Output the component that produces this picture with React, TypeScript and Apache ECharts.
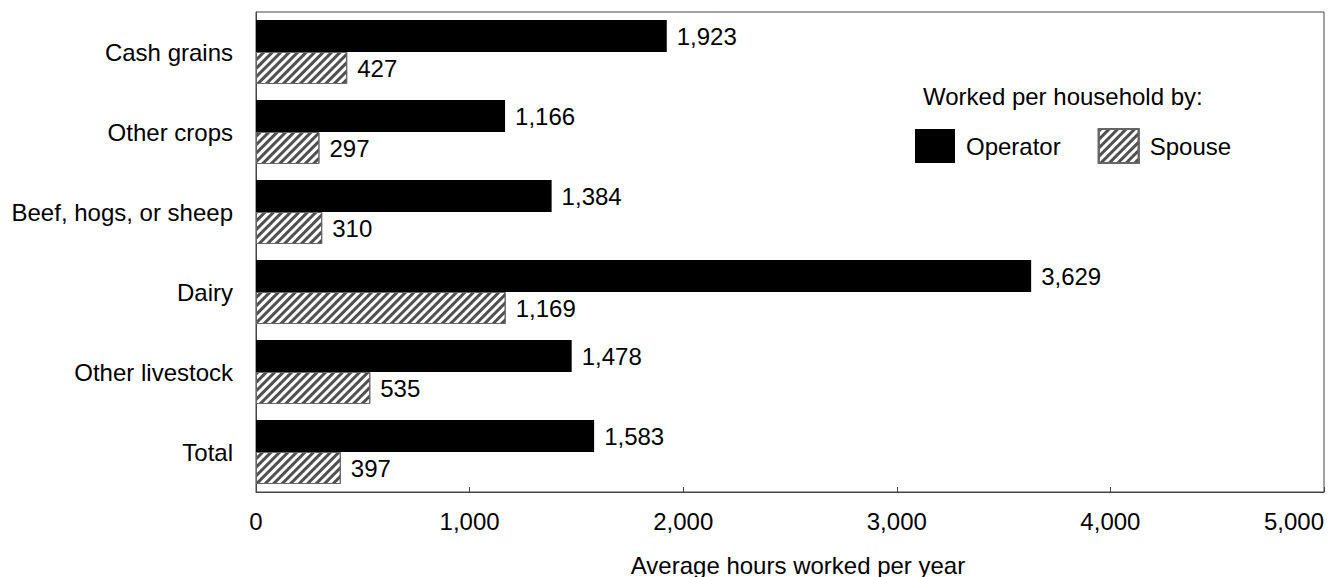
import React, { useEffect, useRef } from "react";
import * as echarts from "echarts";

const categories = ["Cash grains", "Other crops", "Beef, hogs, or sheep", "Dairy", "Other livestock", "Total"];
const operatorHours = [1923, 1166, 1384, 3629, 1478, 1583];
const spouseHours = [427, 297, 310, 1169, 535, 397];
const xTicks = [0, 1000, 2000, 3000, 4000, 5000];

const FONT = "'Liberation Sans', Arial, sans-serif";
const fmt = (v: number) => v.toLocaleString("en-US");

export default function App() {
  const ref = useRef<HTMLDivElement>(null);
  useEffect(() => {
    if (!ref.current) return;
    const chart = echarts.init(ref.current, undefined, { renderer: "svg" });
    const hatch = {
      symbol: "rect",
      symbolSize: 1,
      dashArrayX: [1, 0],
      dashArrayY: [2.5, 3],
      rotation: -Math.PI / 4,
      color: "#505050",
    };
    chart.setOption({
      animation: false,
      backgroundColor: "#fff",
      textStyle: { fontFamily: FONT },
      grid: {
        left: 256,
        right: 8,
        top: 12,
        bottom: 85,
        show: true,
        borderColor: "#444",
        borderWidth: 1,
      },
      xAxis: {
        type: "value",
        min: xTicks[0],
        max: xTicks[xTicks.length - 1],
        interval: 1000,
        splitLine: { show: false },
        axisLine: { show: true, lineStyle: { color: "#444", width: 1 } },
        axisTick: { show: true, inside: true, length: 5, lineStyle: { color: "#444" } },
        axisLabel: {
          fontSize: 24,
          color: "#000",
          fontFamily: FONT,
          margin: 17,
          formatter: (v: number) => fmt(v),
          alignMaxLabel: "right",
        },
      },
      yAxis: {
        type: "category",
        data: categories,
        inverse: true,
        axisLine: { show: true, lineStyle: { color: "#444", width: 1 } },
        axisTick: { show: false },
        axisLabel: { fontSize: 24, color: "#000", fontFamily: FONT, margin: 23 },
      },
      legend: {
        left: 910,
        top: 123,
        itemWidth: 40,
        itemHeight: 34,
        itemGap: 37,
        icon: "rect",
        textStyle: { fontSize: 24, color: "#000", fontFamily: FONT, padding: [0, 0, 0, 6] },
        data: ["Operator", "Spouse"],
      },
      graphic: [
        {
          type: "text",
          left: 923,
          top: 84,
          style: { text: "Worked per household by:", fontSize: 24, fill: "#000", fontFamily: FONT },
        },
        {
          type: "text",
          x: 798,
          y: 553,
          style: {
            text: "Average hours worked per year",
            fontSize: 24,
            fill: "#000",
            fontFamily: FONT,
            textAlign: "center",
            textVerticalAlign: "top",
          },
        },
      ],
      series: [
        {
          name: "Operator",
          type: "bar",
          data: operatorHours,
          barWidth: 32,
          barGap: "0%",
          itemStyle: { color: "#000" },
          label: {
            show: true,
            position: "right",
            distance: 10,
            fontSize: 24,
            color: "#000",
            fontFamily: FONT,
            formatter: (p: any) => fmt(p.value),
          },
        },
        {
          name: "Spouse",
          type: "bar",
          data: spouseHours,
          barWidth: 32,
          barGap: "0%",
          itemStyle: { color: "#fff", borderColor: "#666", borderWidth: 1, decal: hatch },
          label: {
            show: true,
            position: "right",
            distance: 10,
            fontSize: 24,
            color: "#000",
            fontFamily: FONT,
            formatter: (p: any) => fmt(p.value),
          },
        },
      ],
    });
    return () => chart.dispose();
  }, []);
  return (
    <div
      ref={ref}
      style={{ position: "fixed", left: 0, top: 0, width: 1332, height: 577 }}
    />
  );
}
